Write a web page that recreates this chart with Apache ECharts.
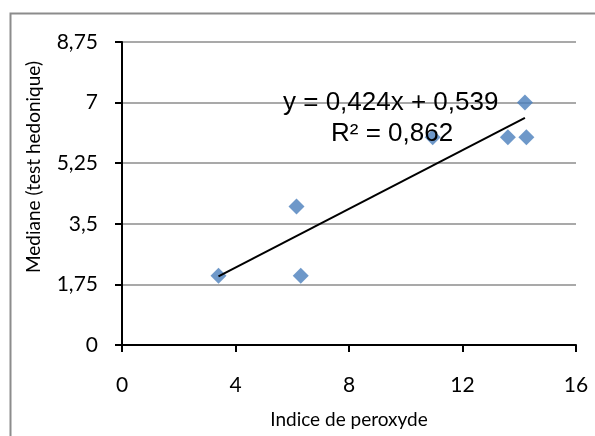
<!DOCTYPE html>
<html>
<head>
<meta charset="utf-8">
<script src="https://cdn.jsdelivr.net/npm/echarts@6/dist/echarts.min.js"></script>
<style>
html,body{margin:0;padding:0;background:#fff;}
#chart{width:595px;height:436px;}
</style>
</head>
<body>
<div id="chart"></div>
<script>
// donnees
var indice = [3.4, 6.15, 6.3, 10.95, 13.6, 14.2, 14.25];
var mediane = [2, 4, 2, 6, 6, 7, 6];
// extremites de la courbe de tendance
var trendX = [3.4, 14.2];
var trendY = [1.98, 6.56];
var equation = 'y = 0,424x + 0,539';
var r2 = 'R² = 0,862';

var points = indice.map(function (x, i) { return [x, mediane[i]]; });
var trend = trendX.map(function (x, i) { return [x, trendY[i]]; });

function fmt(v) {
    return String(v).replace('.', ',');
}

var myChart = echarts.init(document.getElementById('chart'));
var tickFont = 'Lato, sans-serif';

option = {
    animation: false,
    backgroundColor: '#fff',
    grid: {left: 122, right: 19, top: 42, bottom: 91, outerBoundsMode: 'none', containLabel: false},
    xAxis: {
        type: 'value',
        min: 0, max: 16, interval: 4,
        name: 'Indice de peroxyde',
        nameLocation: 'middle',
        nameGap: 65,
        nameTextStyle: {fontFamily: tickFont, fontSize: 19, color: '#000'},
        axisLine: {lineStyle: {color: '#000', width: 2}},
        axisTick: {show: true, length: 7, lineStyle: {color: '#000', width: 2}},
        axisLabel: {fontFamily: tickFont, fontSize: 21, color: '#000', margin: 30},
        splitLine: {show: false}
    },
    yAxis: {
        type: 'value',
        min: 0, max: 8.75, interval: 1.75,
        axisLine: {show: true, lineStyle: {color: '#000', width: 2}},
        axisTick: {show: true, length: 7, lineStyle: {color: '#000', width: 2}},
        axisLabel: {fontFamily: tickFont, fontSize: 21, color: '#000', margin: 24, formatter: fmt},
        splitLine: {lineStyle: {color: '#8c8c8c', width: 1.5}}
    },
    graphic: [
        {
            type: 'rect', left: 8, top: 11, z: -1,
            shape: {width: 600, height: 440},
            style: {fill: 'none', stroke: '#8c8c8c', lineWidth: 2}
        },
        {
            type: 'text', x: 34, y: 167, rotation: Math.PI / 2,
            style: {
                text: 'Mediane (test hedonique)', font: '19px ' + tickFont, fill: '#000',
                align: 'center', verticalAlign: 'middle'
            }
        },
        {
            type: 'text', x: 283, y: 103, z: 10,
            style: {text: equation, font: '26px "Liberation Sans", Arial, sans-serif', fill: '#000', verticalAlign: 'middle'}
        },
        {
            type: 'text', x: 331, y: 134, z: 10,
            style: {text: r2, font: '26px "Liberation Sans", Arial, sans-serif', fill: '#000', verticalAlign: 'middle'}
        }
    ],
    series: [
        {
            type: 'scatter',
            data: points,
            symbol: 'diamond',
            symbolSize: [16, 16],
            itemStyle: {color: '#4a7ebb'},
            z: 3
        },
        {
            type: 'line',
            data: trend,
            symbol: 'none',
            lineStyle: {color: '#000', width: 2},
            z: 4
        }
    ]
};
myChart.setOption(option);
</script>
</body>
</html>
